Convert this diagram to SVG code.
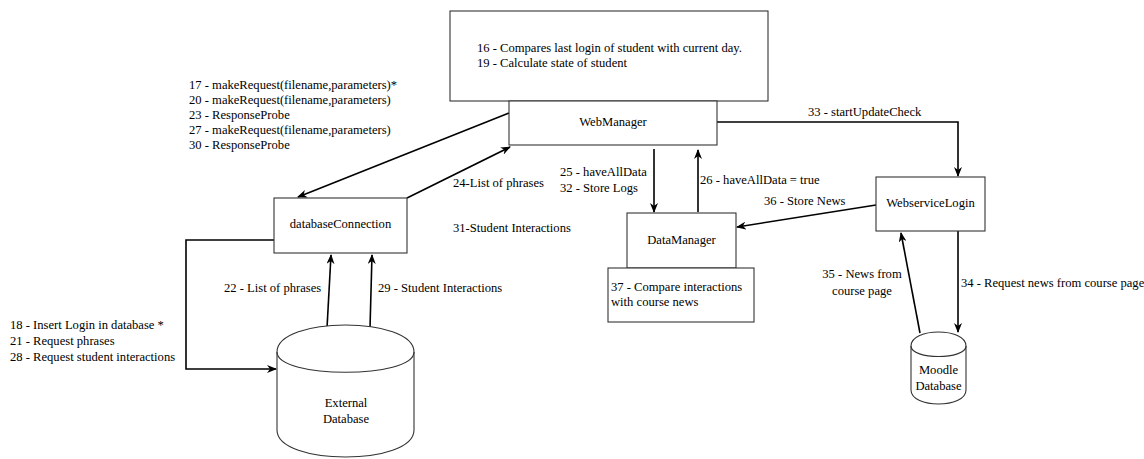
<svg xmlns="http://www.w3.org/2000/svg" width="1144" height="459" viewBox="0 0 1144 459">
<style>
.n{fill:#fff;stroke:#333;stroke-width:1.1}
.t{font-family:"Liberation Serif","Times New Roman",serif;font-size:12.6px;fill:#000}
.m{text-anchor:middle}
.e{fill:none;stroke:#000;stroke-width:1.6}
</style>
<defs>
<marker id="arr" viewBox="0 0 10 8" refX="9" refY="4" markerWidth="10" markerHeight="8" markerUnits="userSpaceOnUse" orient="auto">
<path d="M0,0 L10,4 L0,8 L3,4 Z" fill="#000"/>
</marker>
</defs>
<rect width="1144" height="459" fill="#fff"/>

<g id="connectors">
<path class="e" d="M509,113 L298,197" marker-end="url(#arr)"/>
<path class="e" d="M407,198 L510,147" marker-end="url(#arr)"/>
<path class="e" d="M654,149 L654,212" marker-end="url(#arr)"/>
<path class="e" d="M698,212 L698,150" marker-end="url(#arr)"/>
<path class="e" d="M717,122 L958,122 L958,176" marker-end="url(#arr)"/>
<path class="e" d="M876,205 L737,227" marker-end="url(#arr)"/>
<path class="e" d="M920,333 L901,233" marker-end="url(#arr)"/>
<path class="e" d="M958,231 L958,332" marker-end="url(#arr)"/>
<path class="e" d="M274,240 L186,240 L186,369 L276,369" marker-end="url(#arr)"/>
<path class="e" d="M327,328 L331,255" marker-end="url(#arr)"/>
<path class="e" d="M370,328 L372,255" marker-end="url(#arr)"/>
</g>

<g id="labels">
<text class="t" x="189" y="89">17 - makeRequest(filename,parameters)*</text>
<text class="t" x="189" y="104">20 - makeRequest(filename,parameters)</text>
<text class="t" x="189" y="119">23 - ResponseProbe</text>
<text class="t" x="189" y="134">27 - makeRequest(filename,parameters)</text>
<text class="t" x="189" y="149">30 - ResponseProbe</text>
<text class="t" x="453" y="187">24-List of phrases</text>
<text class="t" x="453" y="232">31-Student Interactions</text>
<text class="t" x="560" y="176">25 - haveAllData</text>
<text class="t" x="560" y="192">32 - Store Logs</text>
<text class="t" x="700" y="184">26 - haveAllData = true</text>
<text class="t" x="764" y="205">36 - Store News</text>
<text class="t" x="808" y="116">33 - startUpdateCheck</text>
<text class="t" x="224" y="292">22 - List of phrases</text>
<text class="t" x="378" y="292">29 - Student Interactions</text>
<text class="t m" x="862" y="278">35 - News from</text>
<text class="t m" x="862" y="295">course page</text>
<text class="t" x="961" y="287">34 - Request news from course page</text>
<text class="t" x="10" y="329">18 - Insert Login in database *</text>
<text class="t" x="10" y="345">21 - Request phrases</text>
<text class="t" x="10" y="361">28 - Request student interactions</text>
</g>

<g id="stateBox">
<rect class="n" x="450" y="11" width="318" height="90"/>
<text class="t" x="477" y="52">16 - Compares last login of student with current day.</text>
<text class="t" x="477" y="67">19 - Calculate state of student</text>
</g>

<g id="webManager">
<rect class="n" x="509" y="101" width="208" height="44"/>
<text class="t m" x="613" y="126">WebManager</text>
</g>

<g id="databaseConnection">
<rect class="n" x="274" y="198" width="133" height="55"/>
<text class="t m" x="340.5" y="228">databaseConnection</text>
</g>

<g id="dataManager">
<rect class="n" x="627" y="213" width="109" height="55"/>
<text class="t m" x="681.5" y="244">DataManager</text>
</g>

<g id="compareBox">
<rect class="n" x="608" y="268" width="146" height="54"/>
<text class="t" x="611" y="291">37 - Compare interactions</text>
<text class="t" x="611" y="306">with course news</text>
</g>

<g id="webserviceLogin">
<rect class="n" x="876" y="177" width="109" height="54"/>
<text class="t m" x="930.5" y="207">WebserviceLogin</text>
</g>

<g id="externalDatabase">
<path class="n" d="M277,352 C277,316 414,316 414,352 L414,430 C414,466 277,466 277,430 Z"/>
<path class="n" fill="none" d="M277,352 C277,379 414,379 414,352" style="fill:none"/>
<text class="t m" x="346" y="407">External</text>
<text class="t m" x="346" y="423">Database</text>
</g>

<g id="moodleDatabase">
<path class="n" d="M911,346 C911,327.3 966,327.3 966,346 L966,390 C966,408.7 911,408.7 911,390 Z"/>
<path class="n" d="M911,346 C911,360 966,360 966,346" style="fill:none"/>
<text class="t m" x="938.5" y="374">Moodle</text>
<text class="t m" x="938.5" y="390">Database</text>
</g>
</svg>
